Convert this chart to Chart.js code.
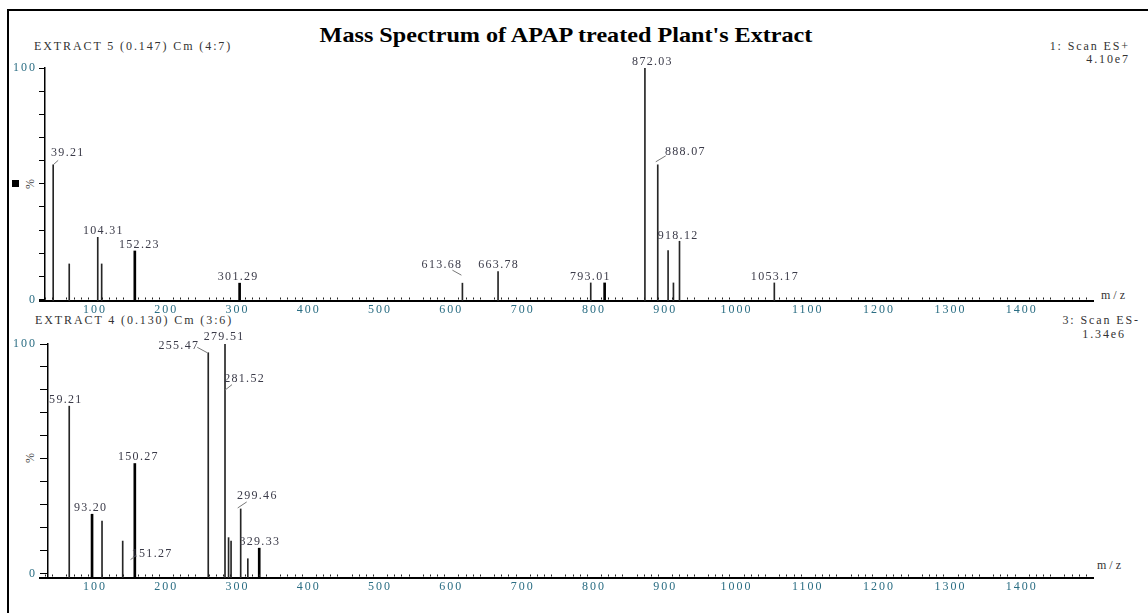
<!DOCTYPE html>
<html>
<head>
<meta charset="utf-8">
<script src="https://cdn.jsdelivr.net/npm/chart.js@4.4.1/dist/chart.umd.min.js"></script>
<style>
  html, body { margin: 0; padding: 0; background: #fff; }
  body { width: 1148px; height: 613px; position: relative; overflow: hidden; font-family: "Liberation Serif", "Times New Roman", serif; }
  .frame { position: absolute; left: 7px; top: 9px; width: 1160px; height: 640px; border-left: 2px solid #000; border-top: 2px solid #000; }
  .box { position: absolute; left: 0; width: 1148px; }
  #title { position: absolute; left: 0; width: 1132px; top: 25px; line-height: 21px; text-align: center;
           font-weight: bold; font-size: 21px; color: #000; transform: scaleX(1.15); }
  .txt { position: absolute; font-size: 12px; line-height: 13px; letter-spacing: 1.9px; color: #333; white-space: nowrap; }
  .pct { position: absolute; font-size: 12px; line-height: 12px; color: #444; transform: rotate(-90deg); }
  .sq { position: absolute; left: 12px; top: 180px; width: 7px; height: 7px; background: #000; }
</style>
</head>
<body>
<div class="frame"></div>
<div id="title">Mass Spectrum of APAP treated Plant's Extract</div>

<div class="txt" style="left:34px;top:40px;">EXTRACT 5 (0.147) Cm (4:7)</div>
<div class="txt" style="right:18px;top:40px;">1: Scan ES+</div>
<div class="txt" style="right:18px;top:53px;">4.10e7</div>
<div class="txt" style="left:1101px;top:289px;letter-spacing:3px;">m/z</div>

<div class="txt" style="left:35px;top:314px;">EXTRACT 4 (0.130) Cm (3:6)</div>
<div class="txt" style="right:8px;top:314px;">3: Scan ES-</div>
<div class="txt" style="right:22px;top:328px;">1.34e6</div>
<div class="txt" style="left:1097px;top:559px;letter-spacing:3px;">m/z</div>

<div class="sq"></div>
<div class="pct" style="left:25px;top:178px;">%</div>
<div class="pct" style="left:25px;top:452px;">%</div>

<div class="box" style="top:0;height:320px;"><canvas id="topChart"></canvas></div>
<div class="box" style="top:320px;height:280px;"><canvas id="botChart"></canvas></div>

<script>
// axis ticks
const xTicks = [100, 200, 300, 400, 500, 600, 700, 800, 900, 1000, 1100, 1200, 1300, 1400];
const yTicks = [0, 10, 20, 30, 40, 50, 60, 70, 80, 90, 100];
const yLabelTicks = [0, 100];

// EXTRACT 5, ES+ : peak m/z and relative intensity (%)
const topMz  = [41.5, 64, 104, 109.5, 156, 303, 615.5, 665.5, 795.5, 815, 871.5, 889.5, 904, 911.5, 920, 1053];
const topPct = [58.2, 15.4, 26.9, 15.4, 21.0, 7.1, 7.1, 12.1, 7.2, 7.2, 100, 58.2, 21.2, 7.2, 25.2, 7.2];
const topBold = [4, 5, 9];

const topLabelText = ['39.21', '104.31', '152.23', '301.29', '613.68', '663.78', '793.01', '872.03', '888.07', '918.12', '1053.17'];
const topLabelMz   = [41.5, 104, 156, 303, 615.5, 665.5, 795.5, 871.5, 889.5, 920, 1053];
const topLabelPct  = [58.2, 26.9, 21.0, 7.1, 7.1, 12.1, 7.2, 100, 58.2, 25.2, 7.2];

// EXTRACT 4, ES- : peak m/z and relative intensity (%)
const botMz  = [64, 96, 110, 139, 156, 259, 282.5, 287.5, 291, 304.5, 314.5, 330.5];
const botPct = [72.9, 25.8, 22.8, 14.1, 47.9, 96.2, 100, 15.6, 14.1, 28.1, 6.4, 11.0];
const botBold = [1, 4, 11];

const botLabelText = ['59.21', '93.20', '150.27', '151.27', '255.47', '279.51', '281.52', '299.46', '329.33'];
const botLabelMz   = [64, 96, 156, 150, 259, 282.5, 282.5, 304.5, 330.5];
const botLabelPct  = [72.9, 25.8, 47.9, 6, 96.2, 100, 79.9, 28.1, 11.0];

// label placement relative to the peak top: [dx, dy, leader line]
const topLabelPos = [
  [14, -12, [0, 0, 5, -4.5]], [5, -6], [4, -6], [-2, -6], [-21, -18, [-1, -8, -10, -13]],
  [0, -7], [-1, -6], [7, -6], [27, -12.5, [-2, -3, 8, -9]], [-2, -5.5], [0, -6]
];
const botLabelPos = [
  [-4, -6], [-2, -6], [3, -6.5], [21, -6.3, [0, 0, 6, -4.5]], [-30, -6.5, [-11, -5.4, -1, 0]],
  [-1.5, -7.5], [19, -11.7, [0, 0, 7, -5.5]], [16, -13, [-3, -1, 6, -7]], [0, -6]
];

Chart.defaults.font.family = '"Liberation Serif", "Times New Roman", serif';
Chart.defaults.font.size = 12;
Chart.defaults.color = '#2a6d83';

// small marks above the m/z axis every 10 units
const minorX = [];
for (let v = 30; v < 1500; v += 10) if (v % 50 !== 0) minorX.push(v);

function decor(p) {
  return {
    id: 'decor',
    beforeDraw(chart) { chart.ctx.letterSpacing = '2px'; },
    afterDatasetsDraw(chart) {
      const ctx = chart.ctx, x = chart.scales.x, y = chart.scales.y;
      const bottom = chart.chartArea.bottom;
      ctx.save();
      ctx.fillStyle = '#222';
      minorX.forEach(v => ctx.fillRect(Math.round(x.getPixelForValue(v)), bottom - 3.5, 1, 2));

      ctx.font = '12px "Liberation Serif"';
      ctx.letterSpacing = '1.3px';
      ctx.textAlign = 'center';
      ctx.textBaseline = 'middle';
      p.labelText.forEach((t, i) => {
        const px = x.getPixelForValue(p.labelMz[i]);
        const py = y.getPixelForValue(p.labelPct[i]);
        const [dx, dy, lead] = p.labelPos[i];
        if (lead) {
          ctx.strokeStyle = '#777';
          ctx.lineWidth = 1;
          ctx.beginPath();
          ctx.moveTo(px + lead[0], py + lead[1]);
          ctx.lineTo(px + lead[2], py + lead[3]);
          ctx.stroke();
        }
        ctx.fillStyle = '#3a3a48';
        ctx.fillText(t, px + dx + 0.6, py + dy);
      });
      ctx.restore();
    },
    afterDraw(chart) { chart.ctx.letterSpacing = '0px'; }
  };
}

function spectrum(id, p) {
  const thin = [], thick = [];
  p.mz.forEach((m, i) => (p.bold.includes(i) ? thick : thin).push({ x: m, y: p.pct[i] }));

  return new Chart(document.getElementById(id), {
    type: 'bar',
    data: {
      datasets: [
        { data: thin, xAxisID: 'x', yAxisID: 'y', barThickness: 1, backgroundColor: '#262626', base: p.yMin, grouped: false },
        { data: thick, xAxisID: 'x', yAxisID: 'y', barThickness: 2, backgroundColor: '#000', base: p.yMin, grouped: false }
      ]
    },
    options: {
      responsive: true,
      maintainAspectRatio: false,
      animation: false,
      events: [],
      layout: { padding: { left: 0, right: 55, top: p.padTop, bottom: 0 } },
      plugins: { legend: { display: false }, tooltip: { enabled: false } },
      scales: {
        x: {
          type: 'linear', min: 23, max: 1500, offset: false,
          afterBuildTicks: s => { s.ticks = xTicks.map(v => ({ value: v })); },
          afterFit: s => { s.height = p.xHeight; },
          ticks: { autoSkip: false, maxRotation: 0, padding: 2, color: '#2a6d83', callback: v => String(v) },
          grid: { display: false, drawTicks: false },
          border: { display: true, color: '#000', width: 2 }
        },
        y: {
          type: 'linear', min: p.yMin, max: 100, position: { x: p.yAt },
          afterBuildTicks: s => { s.ticks = yTicks.map(v => ({ value: v })); },
          ticks: { display: false, autoSkip: false },
          grid: { drawOnChartArea: false, tickLength: p.tickLen, tickColor: '#000', tickWidth: 1 },
          border: { display: true, color: '#000', width: 1.5 }
        },
        yl: {
          type: 'linear', min: p.yMin, max: 100, position: 'left',
          afterBuildTicks: s => { s.ticks = yLabelTicks.map(v => ({ value: v })); },
          afterFit: s => { s.width = 40; },
          ticks: { autoSkip: false, padding: 3, color: '#2a6d83', callback: v => String(v) },
          grid: { display: false, drawTicks: false },
          border: { display: false }
        }
      }
    },
    plugins: [decor(p)]
  });
}

spectrum('topChart', {
  mz: topMz, pct: topPct, bold: topBold,
  labelText: topLabelText, labelMz: topLabelMz, labelPct: topLabelPct, labelPos: topLabelPos,
  yMin: -0.6, yAt: 29, padTop: 68, xHeight: 19, tickLen: 5
});

spectrum('botChart', {
  mz: botMz, pct: botPct, bold: botBold,
  labelText: botLabelText, labelMz: botLabelMz, labelPct: botLabelPct, labelPos: botLabelPos,
  yMin: -2, yAt: 34.5, padTop: 24, xHeight: 22, tickLen: 7
});
</script>
</body>
</html>
